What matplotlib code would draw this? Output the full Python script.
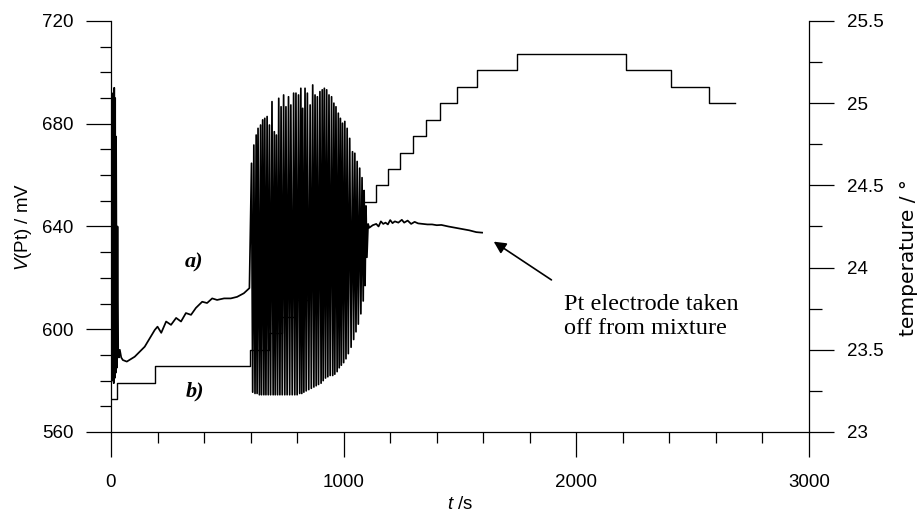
import numpy as np
import matplotlib.pyplot as plt
from matplotlib.ticker import MultipleLocator, FormatStrFormatter

plt.rcParams['font.family'] = 'Liberation Sans'
plt.rcParams['mathtext.fontset'] = 'custom'
plt.rcParams['mathtext.rm'] = 'Liberation Sans'
plt.rcParams['mathtext.it'] = 'Liberation Sans:italic'

# curve a) potential of Pt electrode, mV
# first burst right after mixing
t_burst = [0, 2, 4, 6, 8, 10, 12, 14, 16, 18, 20, 22, 25, 28, 31, 34, 38, 44, 51]
v_burst = [600, 688, 582, 690, 580, 692, 579, 694, 581, 690, 583, 675, 585, 640, 592, 589, 592, 589, 588]

# induction period
t_ind = [68, 102, 145, 188, 200, 216, 237, 258, 280, 301, 322, 344, 365, 392, 413,
         435, 456, 486, 515, 542, 571, 595]
v_ind = [587.4, 589.3, 593.2, 599.7, 601.0, 598.6, 603.0, 601.7, 604.4, 603.0, 606.3,
         605.6, 608.3, 610.7, 610.2, 612.0, 611.4, 612.0, 612.0, 612.6, 614.0, 616.0]

# oscillations: maxima and minima
t_max = [604, 614, 624, 632, 643, 652, 661, 671, 681, 692, 702, 711, 721, 731, 742, 752,
         763, 773, 785, 795, 806, 816, 824, 834, 844, 856, 867, 877, 887, 898, 908, 917,
         927, 937, 948, 958, 967, 977, 986, 995, 1005, 1015, 1026, 1038, 1048, 1058, 1069,
         1079, 1088, 1096]
v_max = [664.6, 671.7, 675.6, 678.2, 679.5, 681.5, 682.1, 682.8, 679.5, 688.6, 676.9, 675.6,
         689.9, 686.6, 691.2, 686.6, 690.5, 687.3, 691.9, 691.9, 691.2, 693.8, 686.0, 693.8,
         691.9, 687.3, 695.1, 691.2, 690.5, 692.5, 693.2, 693.8, 693.2, 691.2, 690.5, 688.0,
         686.6, 684.1, 682.1, 680.2, 680.9, 678.2, 674.3, 669.1, 668.5, 665.3, 662.7,
         659.0, 654.0, 648.0]
t_min = [609, 619, 628, 638, 647, 657, 666, 676, 686, 697, 706, 716, 726, 736, 747, 757,
         768, 779, 790, 800, 811, 820, 829, 839, 850, 861, 872, 882, 892, 903, 912, 922,
         932, 942, 953, 962, 972, 981, 990, 1000, 1010, 1020, 1032, 1043, 1053, 1063, 1074,
         1084, 1092, 1100]
v_min = [575.5, 575.0, 575.0, 574.5, 574.5, 574.5, 574.5, 574.5, 574.5, 574.5, 574.5, 574.5,
         574.5, 574.5, 574.5, 574.5, 574.5, 574.5, 574.5, 574.5, 575.0, 575.0, 575.5, 576.0,
         576.5, 577.0, 577.5, 578.0, 578.5, 579.0, 580.0, 581.0, 581.5, 582.0, 582.0, 582.5,
         583.5, 585.0, 586.0, 587.0, 588.5, 590.5, 593.0, 596.0, 599.0, 602.0, 606.0,
         611.0, 617.0, 628.0]

# after oscillations
t_after = [1105, 1110, 1125, 1140, 1150, 1160, 1170, 1180, 1190, 1200, 1210, 1220, 1235,
           1250, 1260, 1275, 1290, 1305, 1320, 1340, 1360, 1380, 1400, 1420, 1450, 1480,
           1510, 1540, 1570, 1595]
v_after = [641.0, 639.5, 640.5, 641.0, 640.0, 642.0, 641.0, 641.5, 640.8, 642.5, 641.3,
           642.0, 641.5, 642.6, 641.5, 642.3, 641.0, 641.8, 641.2, 641.0, 640.8, 640.8,
           640.5, 640.6, 640.0, 639.5, 639.0, 638.5, 637.8, 637.6]

# curve b) temperature, steps
temp_t = [0, 27, 188, 596, 678, 734, 790, 845, 900, 955, 1010, 1050, 1085, 1140, 1190,
          1241, 1296, 1352, 1415, 1488, 1574, 1744, 2213, 2405, 2571, 2682]
temp_v = [23.2, 23.3, 23.4, 23.5, 23.6, 23.7, 23.8, 23.9, 24.0, 24.1, 24.2, 24.3, 24.4,
          24.5, 24.6, 24.7, 24.8, 24.9, 25.0, 25.1, 25.2, 25.3, 25.2, 25.1, 25.0, 25.0]

t_osc = np.column_stack([t_max, t_min]).ravel()
v_osc = np.column_stack([v_max, v_min]).ravel()
t_a = np.concatenate([t_burst, t_ind, t_osc, t_after])
v_a = np.concatenate([v_burst, v_ind, v_osc, v_after])

fig = plt.figure(figsize=(9.21, 5.12), dpi=100)
ax = fig.add_axes([0.1205, 0.1563, 0.7579, 0.8027])
ax2 = ax.twinx()
# potential trace drawn over the temperature steps
ax.set_zorder(ax2.get_zorder() + 1)
ax.patch.set_visible(False)

ax.plot(t_a, v_a, color='black', linewidth=1.25)
ax2.plot(temp_t, temp_v, color='black', linewidth=1.0, drawstyle='steps-post')

ax.set_xlim(0, 3000)
ax.set_ylim(560, 720)
ax2.set_ylim(23, 25.5)

ax.xaxis.set_major_locator(MultipleLocator(1000))
ax.xaxis.set_minor_locator(MultipleLocator(200))
ax.yaxis.set_major_locator(MultipleLocator(40))
ax.yaxis.set_minor_locator(MultipleLocator(10))
ax2.yaxis.set_major_locator(MultipleLocator(0.5))
ax2.yaxis.set_minor_locator(MultipleLocator(0.25))
ax2.yaxis.set_major_formatter(FormatStrFormatter('%g'))

for a in (ax, ax2):
    a.spines['top'].set_visible(False)
    for s in a.spines.values():
        s.set_linewidth(0.9)
ax.spines['right'].set_visible(False)
ax2.spines['left'].set_visible(False)
ax2.spines['bottom'].set_visible(False)

ax.tick_params(axis='both', which='major', direction='out', length=18, width=0.9,
               labelsize=13.5)
ax.tick_params(axis='both', which='minor', direction='out', length=8, width=0.9)
ax.tick_params(axis='y', which='major', pad=9)
ax.tick_params(axis='x', which='major', pad=12)
ax2.tick_params(axis='y', which='major', direction='out', length=18, width=0.9,
                labelsize=13.5, pad=9)
ax2.tick_params(axis='y', which='minor', direction='out', length=9, width=0.9)

ax.set_xlabel('$t$ /s', fontsize=13.5, labelpad=4)
ax.set_ylabel('$V$(Pt) / mV', fontsize=13.5, labelpad=6)
# right axis title sits close to the figure edge, slightly below centre
fig.text(908 / 921, 1 - 258 / 512, 'temperature / °', family='DejaVu Sans',
         fontsize=14.5, rotation=90, ha='center', va='center')

ax.text(358, 626, 'a)', family='Liberation Serif', fontsize=16, fontweight='bold',
        style='italic', ha='center', va='center')
ax.text(362, 575.6, 'b)', family='Liberation Serif', fontsize=16, fontweight='bold',
        style='italic', ha='center', va='center')
ax.annotate('', xy=(1645, 634.1), xytext=(1893, 619.2),
            arrowprops=dict(arrowstyle='-|>', color='black', lw=1.2,
                            mutation_scale=18, shrinkA=0, shrinkB=0))
ax.text(1945, 605, 'Pt electrode taken\noff from mixture', family='Liberation Serif',
        fontsize=17.5, ha='left', va='center', linespacing=1.2)

fig.savefig('out.png', dpi=100)
